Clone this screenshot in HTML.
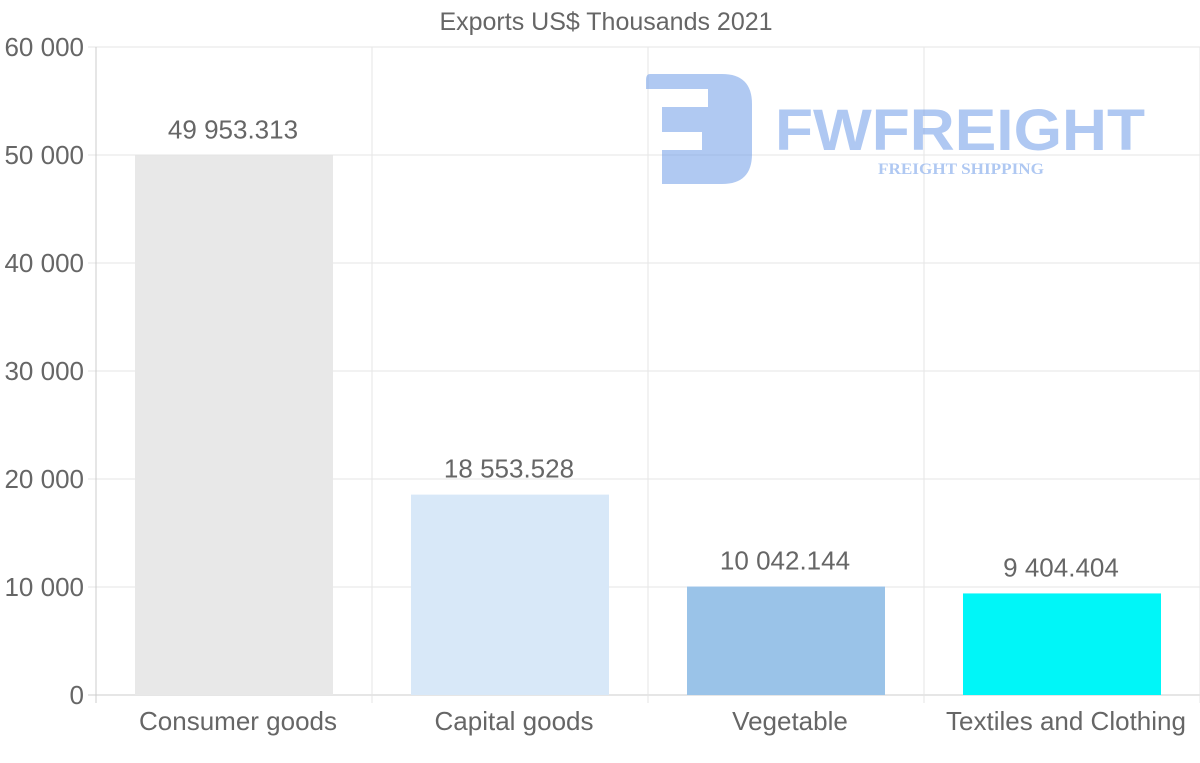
<!DOCTYPE html>
<html><head><meta charset="utf-8"><style>
html,body{margin:0;padding:0;background:#fff;}
svg{display:block;font-family:"Liberation Sans",sans-serif;}
</style></head><body>
<svg id="chart" width="1200" height="763" viewBox="0 0 1200 763">
<g id="grid"></g>
<g id="logo" opacity="0.55">
  <path fill-rule="evenodd" d="M650 74 H722 Q752 74 752 104 V154 Q752 184 722 184 H662 V89 H646 V80 Q646 74 650 74 Z M662 89 H708 V107 H662 Z M662 132 H702 V150 H662 Z" fill="#6f9ce8"/>
  <text x="775" y="150" font-size="58" font-weight="bold" fill="#6f9ce8" textLength="370" lengthAdjust="spacingAndGlyphs">FWFREIGHT</text>
  <text x="878" y="174" font-size="16" font-weight="bold" fill="#6f9ce8" font-family="Liberation Serif,serif" textLength="166" lengthAdjust="spacingAndGlyphs">FREIGHT SHIPPING</text>
</g>
<g id="bars"></g>
<text x="606" y="30" text-anchor="middle" font-size="25" fill="#666">Exports US$ Thousands 2021</text>
</svg>
<script>
const categories = ["Consumer goods","Capital goods","Vegetable","Textiles and Clothing"];
const values = [49953.313, 18553.528, 10042.144, 9404.404];
const valueLabels = ["49 953.313","18 553.528","10 042.144","9 404.404"];
const colors = ["#e8e8e8","#d8e8f8","#9ac3e8","#00f6f8"];
const yTicks = [0,10000,20000,30000,40000,50000,60000];
const yTickLabels = ["0","10 000","20 000","30 000","40 000","50 000","60 000"];

const NS="http://www.w3.org/2000/svg";
const x0=96,x1=1200,yTop=47,yBot=695,yMax=60000;
const y=v=>yBot-(v/yMax)*(yBot-yTop);
const band=(x1-x0)/categories.length;
const grid=document.getElementById('grid'),bars=document.getElementById('bars');
function mk(tag,attrs,parent){const e=document.createElementNS(NS,tag);for(const k in attrs)e.setAttribute(k,attrs[k]);parent.appendChild(e);return e;}
yTicks.forEach((t,i)=>{
  const l=mk('line',{x1:88,x2:x1,y1:y(t),y2:y(t),stroke:i===0?'#ccc':'#e5e5e5','stroke-width':1},grid);
  
  
  const tx=mk('text',{x:84,y:y(t)+9,'text-anchor':'end','font-size':26,fill:'#666'},grid);
  tx.textContent=yTickLabels[i];
  
  
});
for(let i=0;i<=categories.length;i++){
  const xx=x0+i*band;
  const l=mk('line',{x1:xx,x2:xx,y1:yTop,y2:703,stroke:i===0?'#ccc':'#e5e5e5','stroke-width':1},grid);
  
  
}
categories.forEach((c,i)=>{
  const cx=x0+band*(i+0.5),w=198;
  const r=mk('rect',{x:cx-w/2,y:y(values[i]),width:w,height:yBot-y(values[i]),fill:colors[i]},bars);
  
  
  const v=mk('text',{x:cx-1,y:y(values[i])-17,'text-anchor':'middle','font-size':26,fill:'#666'},bars);
  v.textContent=valueLabels[i];
  
  
  const xl=mk('text',{x:cx+4,y:730,'text-anchor':'middle','font-size':26,fill:'#666'},bars);
  xl.textContent=c;
  
  
});
</script>
</body></html>
